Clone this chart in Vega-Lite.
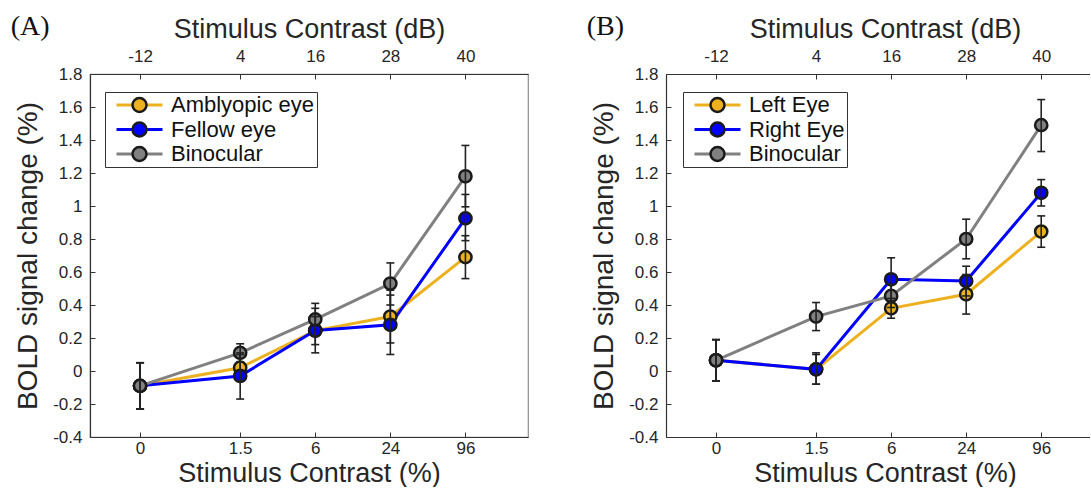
{
  "$schema": "https://vega.github.io/schema/vega-lite/v6.json",
  "padding": {"left": 10, "top": 12, "right": 0, "bottom": 0},
  "background": "white",
  "config": {
    "font": "Liberation Sans",
    "view": {"stroke": "#8c8c8c", "strokeWidth": 1.2},
    "axis": {
      "grid": false,
      "domainColor": "#333333",
      "domainWidth": 1.2,
      "tickColor": "#333333",
      "tickSize": -5,
      "labelColor": "#262626",
      "titleColor": "#262626",
      "labelFont": "Liberation Sans",
      "titleFont": "Liberation Sans",
      "labelFontSize": 17,
      "titleFontSize": 27,
      "titleFontWeight": "normal",
      "labelOverlap": false
    },
    "axisY": {
      "values": [-0.4, -0.2, 0, 0.2, 0.4, 0.6, 0.8, 1, 1.2, 1.4, 1.6, 1.8],
      "labelOverlap": false,
      "labelBound": false,
      "labelPadding": 13,
      "titlePadding": 10,
      "titleFontSize": 28
    },
    "legend": {
      "labelFont": "Liberation Sans",
      "labelFontSize": 22,
      "labelColor": "#111111"
    }
  },
  "datasets": {
    "a": [
      {"series": "Amblyopic eye", "eye": "Amblyopic eye", "contrast": "0", "dB": -12, "mean": -0.09, "lo": -0.23, "hi": 0.05},
      {"series": "Amblyopic eye", "eye": "Amblyopic eye", "contrast": "1.5", "dB": 4, "mean": 0.02, "lo": -0.06, "hi": 0.10},
      {"series": "Amblyopic eye", "eye": "Amblyopic eye", "contrast": "6", "dB": 16, "mean": 0.245, "lo": 0.16, "hi": 0.33},
      {"series": "Amblyopic eye", "eye": "Amblyopic eye", "contrast": "24", "dB": 28, "mean": 0.33, "lo": 0.17, "hi": 0.49},
      {"series": "Amblyopic eye", "eye": "Amblyopic eye", "contrast": "96", "dB": 40, "mean": 0.69, "lo": 0.56, "hi": 0.82},
      {"series": "Fellow eye", "eye": "Fellow eye", "contrast": "0", "dB": -12, "mean": -0.09, "lo": -0.23, "hi": 0.05},
      {"series": "Fellow eye", "eye": "Fellow eye", "contrast": "1.5", "dB": 4, "mean": -0.03, "lo": -0.17, "hi": 0.11},
      {"series": "Fellow eye", "eye": "Fellow eye", "contrast": "6", "dB": 16, "mean": 0.245, "lo": 0.11, "hi": 0.38},
      {"series": "Fellow eye", "eye": "Fellow eye", "contrast": "24", "dB": 28, "mean": 0.28, "lo": 0.10, "hi": 0.46},
      {"series": "Fellow eye", "eye": "Fellow eye", "contrast": "96", "dB": 40, "mean": 0.925, "lo": 0.79, "hi": 1.07},
      {"series": "Binocular", "eye": "Binocular", "contrast": "0", "dB": -12, "mean": -0.09, "lo": -0.23, "hi": 0.05},
      {"series": "Binocular", "eye": "Binocular", "contrast": "1.5", "dB": 4, "mean": 0.11, "lo": 0.055, "hi": 0.165},
      {"series": "Binocular", "eye": "Binocular", "contrast": "6", "dB": 16, "mean": 0.313, "lo": 0.21, "hi": 0.41},
      {"series": "Binocular", "eye": "Binocular", "contrast": "24", "dB": 28, "mean": 0.53, "lo": 0.40, "hi": 0.655},
      {"series": "Binocular", "eye": "Binocular", "contrast": "96", "dB": 40, "mean": 1.18, "lo": 0.995, "hi": 1.367}
    ],
    "b": [
      {"series": "Left Eye", "eye": "Left Eye", "contrast": "0", "dB": -12, "mean": 0.065, "lo": -0.06, "hi": 0.19},
      {"series": "Left Eye", "eye": "Left Eye", "contrast": "1.5", "dB": 4, "mean": 0.01, "lo": -0.08, "hi": 0.10},
      {"series": "Left Eye", "eye": "Left Eye", "contrast": "6", "dB": 16, "mean": 0.38, "lo": 0.32, "hi": 0.44},
      {"series": "Left Eye", "eye": "Left Eye", "contrast": "24", "dB": 28, "mean": 0.465, "lo": 0.345, "hi": 0.585},
      {"series": "Left Eye", "eye": "Left Eye", "contrast": "96", "dB": 40, "mean": 0.845, "lo": 0.75, "hi": 0.94},
      {"series": "Right Eye", "eye": "Right Eye", "contrast": "0", "dB": -12, "mean": 0.065, "lo": -0.06, "hi": 0.19},
      {"series": "Right Eye", "eye": "Right Eye", "contrast": "1.5", "dB": 4, "mean": 0.01, "lo": -0.08, "hi": 0.11},
      {"series": "Right Eye", "eye": "Right Eye", "contrast": "6", "dB": 16, "mean": 0.556, "lo": 0.426, "hi": 0.686},
      {"series": "Right Eye", "eye": "Right Eye", "contrast": "24", "dB": 28, "mean": 0.545, "lo": 0.455, "hi": 0.635},
      {"series": "Right Eye", "eye": "Right Eye", "contrast": "96", "dB": 40, "mean": 1.08, "lo": 1.0, "hi": 1.16},
      {"series": "Binocular", "eye": "Binocular", "contrast": "0", "dB": -12, "mean": 0.065, "lo": -0.06, "hi": 0.19},
      {"series": "Binocular", "eye": "Binocular", "contrast": "1.5", "dB": 4, "mean": 0.33, "lo": 0.245, "hi": 0.415},
      {"series": "Binocular", "eye": "Binocular", "contrast": "6", "dB": 16, "mean": 0.455, "lo": 0.385, "hi": 0.525},
      {"series": "Binocular", "eye": "Binocular", "contrast": "24", "dB": 28, "mean": 0.80, "lo": 0.68, "hi": 0.92},
      {"series": "Binocular", "eye": "Binocular", "contrast": "96", "dB": 40, "mean": 1.49, "lo": 1.33, "hi": 1.645}
    ]
  },
  "spacing": 57,
  "resolve": {
    "scale": {"color": "independent", "fill": "independent", "x": "independent", "y": "independent"},
    "legend": {"color": "independent", "fill": "independent"}
  },
  "hconcat": [
    {
      "width": 438,
      "height": 363,
      "title": {"text": "(A)", "anchor": "start", "frame": "bounds", "font": "Liberation Serif", "fontSize": 28, "fontWeight": "normal", "color": "#111111", "dx": -4, "dy": 30},
      "data": {"name": "a"},
      "resolve": {"axis": {"x": "independent"}},
      "layer": [
        {
          "mark": {"type": "line", "strokeWidth": 3},
          "encoding": {
            "x": {"field": "dB", "type": "quantitative", "scale": {"domain": [-20, 50], "nice": false, "zero": false},
                  "axis": {"orient": "bottom", "values": [-12, 4, 16, 28, 40], "title": "Stimulus Contrast (%)", "labelPadding": 8, "titlePadding": 4,
                           "labelExpr": "datum.value == -12 ? '0' : datum.value == 4 ? '1.5' : datum.value == 16 ? '6' : datum.value == 28 ? '24' : '96'"}},
            "y": {"field": "mean", "type": "quantitative", "scale": {"domain": [-0.4, 1.8], "nice": false, "zero": false},
                  "title": "BOLD signal change (%)",
                  "axis": {"labelExpr": "datum.value + ''"}},
            "color": {"field": "series", "type": "nominal",
                      "scale": {"domain": ["Amblyopic eye", "Fellow eye", "Binocular"], "range": ["#EDB120", "#0000FF", "#808080"]},
                      "legend": {"orient": "none", "legendX": 15, "legendY": 18, "direction": "vertical", "title": null,
                                 "symbolType": "M-1,0L-0.33,0M0.33,0L1,0", "symbolSize": 2116, "symbolStrokeWidth": 3,
                                 "strokeColor": "#333333", "padding": 2, "symbolOffset": 8, "labelOffset": 7, "rowPadding": 2.5, "clipHeight": 22}}
          }
        },
        {
          "mark": {"type": "point", "filled": true, "size": 150, "stroke": "#1a1a1a", "strokeWidth": 2.5, "opacity": 1},
          "encoding": {
            "x": {"field": "dB", "type": "quantitative",
                  "axis": {"orient": "top", "values": [-12, 4, 16, 28, 40], "title": "Stimulus Contrast (dB)", "labelExpr": "datum.value + ''", "labelPadding": 14, "titlePadding": 4}},
            "y": {"field": "mean", "type": "quantitative", "title": "BOLD signal change (%)", "axis": {"labelExpr": "datum.value + ''"}},
            "fill": {"field": "eye", "type": "nominal", "sort": ["Amblyopic eye", "Fellow eye", "Binocular"],
                     "scale": {"range": ["#EDB120", "#0000FF", "#808080"]},
                     "legend": {"orient": "none", "legendX": 15, "legendY": 18, "direction": "vertical", "title": null,
                                "symbolType": "M-0.304,0A0.304,0.304,0,1,0,0.304,0A0.304,0.304,0,1,0,-0.304,0Z", "symbolSize": 2116,
                                "symbolStrokeColor": "#1a1a1a", "symbolStrokeWidth": 2.5, "symbolOpacity": 1, "labelOpacity": 0,
                                "padding": 2, "symbolOffset": 8, "labelOffset": 7, "rowPadding": 2.5, "clipHeight": 22}}
          }
        },
        {
          "mark": {"type": "rule", "color": "#222222", "strokeWidth": 1.6},
          "encoding": {
            "x": {"field": "dB", "type": "quantitative", "axis": null},
            "y": {"field": "lo", "type": "quantitative", "title": "BOLD signal change (%)", "axis": {"labelExpr": "datum.value + ''"}},
            "y2": {"field": "hi"}
          }
        },
        {
          "mark": {"type": "rule", "color": "#222222", "strokeWidth": 1.6, "xOffset": -4, "x2Offset": 4},
          "encoding": {
            "x": {"field": "dB", "type": "quantitative", "axis": null},
            "x2": {"field": "dB"},
            "y": {"field": "lo", "type": "quantitative", "title": "BOLD signal change (%)", "axis": {"labelExpr": "datum.value + ''"}}
          }
        },
        {
          "mark": {"type": "rule", "color": "#222222", "strokeWidth": 1.6, "xOffset": -4, "x2Offset": 4},
          "encoding": {
            "x": {"field": "dB", "type": "quantitative", "axis": null},
            "x2": {"field": "dB"},
            "y": {"field": "hi", "type": "quantitative", "title": "BOLD signal change (%)", "axis": {"labelExpr": "datum.value + ''"}}
          }
        }
      ]
    },
    {
      "width": 424,
      "height": 363,
      "view": {"stroke": null},
      "title": {"text": "(B)", "anchor": "start", "frame": "bounds", "font": "Liberation Serif", "fontSize": 28, "fontWeight": "normal", "color": "#111111", "dx": -4, "dy": 30},
      "data": {"name": "b"},
      "resolve": {"axis": {"x": "independent"}},
      "layer": [
        {
          "mark": {"type": "line", "strokeWidth": 3},
          "encoding": {
            "x": {"field": "dB", "type": "quantitative", "scale": {"domain": [-20, 47.8], "nice": false, "zero": false},
                  "axis": {"orient": "bottom", "values": [-12, 4, 16, 28, 40], "title": "Stimulus Contrast (%)", "labelPadding": 8, "titlePadding": 4, "titleX": 219,
                           "labelExpr": "datum.value == -12 ? '0' : datum.value == 4 ? '1.5' : datum.value == 16 ? '6' : datum.value == 28 ? '24' : '96'"}},
            "y": {"field": "mean", "type": "quantitative", "scale": {"domain": [-0.4, 1.8], "nice": false, "zero": false},
                  "title": "BOLD signal change (%)",
                  "axis": {"labelExpr": "datum.value + ''"}},
            "color": {"field": "series", "type": "nominal",
                      "scale": {"domain": ["Left Eye", "Right Eye", "Binocular"], "range": ["#EDB120", "#0000FF", "#808080"]},
                      "legend": {"orient": "none", "legendX": 17, "legendY": 18, "direction": "vertical", "title": null,
                                 "symbolType": "M-1,0L-0.33,0M0.33,0L1,0", "symbolSize": 2116, "symbolStrokeWidth": 3,
                                 "strokeColor": "#333333", "padding": 2, "symbolOffset": 8, "labelOffset": 7, "rowPadding": 2.5, "clipHeight": 22}}
          }
        },
        {
          "mark": {"type": "point", "filled": true, "size": 150, "stroke": "#1a1a1a", "strokeWidth": 2.5, "opacity": 1},
          "encoding": {
            "x": {"field": "dB", "type": "quantitative",
                  "axis": {"orient": "top", "values": [-12, 4, 16, 28, 40], "title": "Stimulus Contrast (dB)", "labelExpr": "datum.value + ''", "labelPadding": 14, "titlePadding": 4, "titleX": 219}},
            "y": {"field": "mean", "type": "quantitative", "title": "BOLD signal change (%)", "axis": {"labelExpr": "datum.value + ''"}},
            "fill": {"field": "eye", "type": "nominal", "sort": ["Left Eye", "Right Eye", "Binocular"],
                     "scale": {"range": ["#EDB120", "#0000FF", "#808080"]},
                     "legend": {"orient": "none", "legendX": 17, "legendY": 18, "direction": "vertical", "title": null,
                                "symbolType": "M-0.304,0A0.304,0.304,0,1,0,0.304,0A0.304,0.304,0,1,0,-0.304,0Z", "symbolSize": 2116,
                                "symbolStrokeColor": "#1a1a1a", "symbolStrokeWidth": 2.5, "symbolOpacity": 1, "labelOpacity": 0,
                                "padding": 2, "symbolOffset": 8, "labelOffset": 7, "rowPadding": 2.5, "clipHeight": 22}}
          }
        },
        {
          "mark": {"type": "rule", "color": "#222222", "strokeWidth": 1.6},
          "encoding": {
            "x": {"field": "dB", "type": "quantitative", "axis": null},
            "y": {"field": "lo", "type": "quantitative", "title": "BOLD signal change (%)", "axis": {"labelExpr": "datum.value + ''"}},
            "y2": {"field": "hi"}
          }
        },
        {
          "mark": {"type": "rule", "color": "#222222", "strokeWidth": 1.6, "xOffset": -4, "x2Offset": 4},
          "encoding": {
            "x": {"field": "dB", "type": "quantitative", "axis": null},
            "x2": {"field": "dB"},
            "y": {"field": "lo", "type": "quantitative", "title": "BOLD signal change (%)", "axis": {"labelExpr": "datum.value + ''"}}
          }
        },
        {
          "mark": {"type": "rule", "color": "#222222", "strokeWidth": 1.6, "xOffset": -4, "x2Offset": 4},
          "encoding": {
            "x": {"field": "dB", "type": "quantitative", "axis": null},
            "x2": {"field": "dB"},
            "y": {"field": "hi", "type": "quantitative", "title": "BOLD signal change (%)", "axis": {"labelExpr": "datum.value + ''"}}
          }
        }
      ]
    }
  ]
}
